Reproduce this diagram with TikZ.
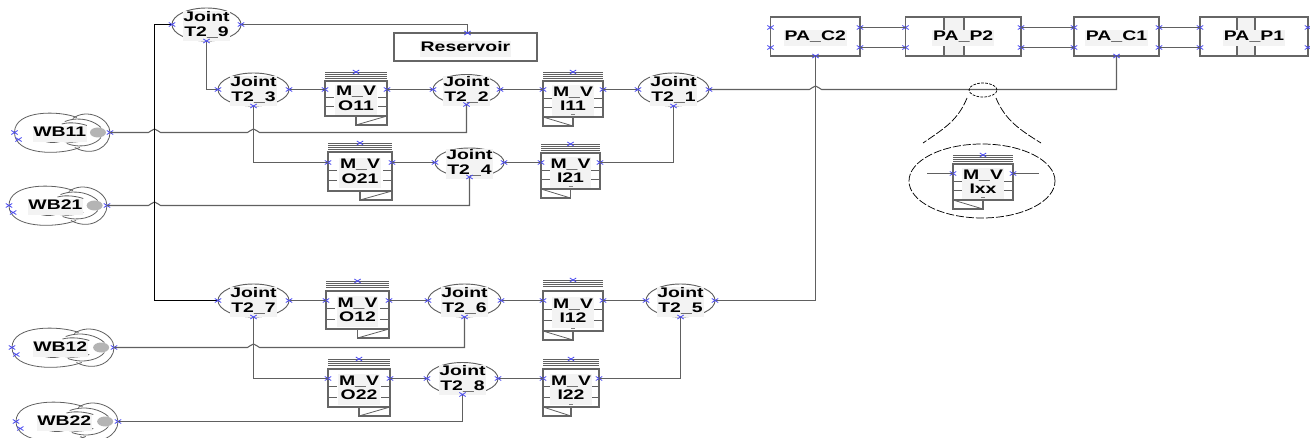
\documentclass[tikz,border=0pt]{standalone}
\usepackage{fontspec}
\setmainfont[FakeStretch=1.4]{Liberation Sans}
\usetikzlibrary{shapes.geometric,calc}
\definecolor{lineC}{HTML}{606060}
\definecolor{boxC}{HTML}{666666}
\definecolor{portC}{HTML}{4A4AF0}
\definecolor{lbg}{HTML}{F3F3F3}
\definecolor{wbgray}{HTML}{B4B4B4}
\newcommand{\lab}[1]{\setlength{\fboxsep}{0.6pt}\raisebox{-1.2pt}[\height][\depth]{\colorbox{lbg}{\fontsize{10.4}{10.8}\selectfont\bfseries\begin{tabular}{@{}c@{}}#1\end{tabular}}}}
\newcommand{\prt}[1]{\draw[portmk,shift={(#1)}] (-3.2,-2)--(3.2,2) (-3.2,2)--(3.2,-2);}
\newcommand{\hop}[2]{-- ({#1-6},#2) .. controls ({#1-4},#2) and ({#1-3},{#2-3.5}) .. (#1,{#2-3.5}) .. controls ({#1+3},{#2-3.5}) and ({#1+4},#2) .. ({#1+6},#2)}
% id, left, right, top, bottom, second line
\newcommand{\joint}[6]{%
  \node[jointnode,minimum width={(#3-#2)*0.75pt},minimum height={(#5-#4)*0.75pt}] (#1) at ({(#2+#3)/2},{(#4+#5)/2}) {\lab{Joint\\#6}};}
% common valve body: id,x1,y1,x2,y2,py,ty,label
\newcommand{\valvebody}[8]{%
  \foreach \d in {0,2.2,4.4,6.6} {\draw[thinline] (#2,{#7+\d}) -- (#4,{#7+\d});}
  \draw[thinline] (#2,{#3+(#5-#3)*0.47}) -- ({#2+9},{#3+(#5-#3)*0.47}) (#4,{#3+(#5-#3)*0.47}) -- ({#4-9},{#3+(#5-#3)*0.47});
  \draw[thinline] (#2,{#3+(#5-#3)*0.74}) -- ({#2+9},{#3+(#5-#3)*0.74}) (#4,{#3+(#5-#3)*0.74}) -- ({#4-9},{#3+(#5-#3)*0.74});
  \node[valvenode,minimum width={(#4-#2)*0.75pt},minimum height={(#5-#3)*0.75pt}] (#1) at ({(#2+#4)/2},{(#3+#5)/2}) {\lab{M\_V\\#8}};
  \coordinate (#1L) at (#2,#6);
  \coordinate (#1R) at (#4,#6);
  \coordinate (#1T) at ({(#2+#4)/2},#7);
  \prt{#1L}\prt{#1R}\prt{#1T}}
\newcommand{\valveO}[8]{\valvebody{#1}{#2}{#3}{#4}{#5}{#6}{#7}{#8}
  \draw[boxline] ({(#2+#4)/2},#5) -- ({(#2+#4)/2},{#5+9}) -- (#4,{#5+9}) -- (#4,#5);
  \draw[thinline] ({(#2+#4)/2},{#5+9}) -- (#4,#5);}
\newcommand{\valveI}[8]{\valvebody{#1}{#2}{#3}{#4}{#5}{#6}{#7}{#8}
  \draw[boxline] (#2,#5) -- (#2,{#5+9}) -- ({(#2+#4)/2},{#5+9}) -- ({(#2+#4)/2},#5);
  \draw[thinline] (#2,#5) -- ({(#2+#4)/2},{#5+9});
  \draw[thinline,gray] ({(#2+#4)/2-2},{#5-3}) -- ({(#2+#4)/2+2},{#5-3});}
% id, x0, width, y, label
\newcommand{\wb}[5]{%
  \begin{scope}[shift={(#2,#4)},xscale=#3/95]
    \draw[thinline] (62,-15) .. controls (45,-22) and (0,-23) .. (0,0) .. controls (0,23) and (45,23) .. (65,15);
    \draw[thinline] (58,-14) .. controls (72,-25) and (95,-14) .. (95,0) .. controls (95,14) and (78,25) .. (60,15);
    \draw[thinline] (50,-11) .. controls (66,-17) and (80,-11) .. (86,-5);
    \draw[thinline] (52,11) .. controls (68,17) and (82,11) .. (86,5);
    \draw[thinline] (47,-8.5) .. controls (56,-11) and (66,-9) .. (72,-7);
    \draw[thinline] (47,8.5) .. controls (56,11) and (66,9) .. (72,7);
    \draw[thinline] (26,7) .. controls (33,11) and (43,11) .. (50,7);
    \node[wbnode] (#1) at (45,0) {\lab{#5}};
    \node[wbdisc] (#1D) at (83,0) {};
    \coordinate (#1R) at (95,0);
    \coordinate (#1L) at (0,0);
    \coordinate (#1M) at (4,7);
  \end{scope}
  \prt{#1R}\prt{#1L}\prt{#1M}}
% id, x1, x2, label
\newcommand{\pabox}[4]{%
  \node[panode,minimum width={(#3-#2)*0.75pt}] (#1) at ({(#2+#3)/2},36.5) {\lab{#4}};
  \coordinate (#1La) at (#2,27.5);
  \coordinate (#1Lb) at (#2,47.5);
  \coordinate (#1Ra) at (#3,27.5);
  \coordinate (#1Rb) at (#3,47.5);
  \prt{#1La}\prt{#1Lb}\prt{#1Ra}\prt{#1Rb}}
\tikzset{
  every node/.style={inner sep=0pt,outer sep=0pt,text=black},
  thinline/.style={draw=lineC,line width=0.6pt},
  boxline/.style={draw=boxC,line width=0.9pt},
  conn/.style={draw=lineC,line width=0.8pt},
  rowconn/.style={draw=lineC,line width=0.7pt},
  bus/.style={draw=black,line width=1pt},
  portmk/.style={draw=portC,line width=0.6pt},
  jointnode/.style={ellipse,draw=lineC,line width=0.7pt,inner sep=-4pt},
  valvenode/.style={rectangle,draw=boxC,line width=0.9pt},
  panode/.style={rectangle,draw=boxC,line width=0.9pt,minimum height=29.25pt},
  wbnode/.style={},
  wbdisc/.style={ellipse,fill=wbgray,draw=none,minimum width=12pt,minimum height=7.5pt},
  dashring/.style={ellipse,draw=black,line width=0.55pt,dash pattern=on 6pt off 1.5pt},
  dashcurve/.style={draw=black,line width=0.55pt,dash pattern=on 6pt off 1.5pt}
}
\begin{document}
\begin{tikzpicture}[x=0.75pt,y=-0.75pt]
\clip (0,0) rectangle (1310,438);
% joints
\joint{T29}{172}{241}{8}{41}{T2\_9}
\joint{T23}{218}{289}{73}{106}{T2\_3}
\joint{T22}{433}{500}{74.5}{104.5}{T2\_2}
\joint{T21}{638}{709}{73}{106}{T2\_1}
\joint{T24}{435}{504}{148}{177}{T2\_4}
\joint{T27}{218}{289}{284}{317}{T2\_7}
\joint{T26}{428}{501}{284}{317}{T2\_6}
\joint{T25}{646}{715}{284}{317}{T2\_5}
\joint{T28}{427}{498}{362.5}{394.5}{T2\_8}
% valves
\valveO{O11}{325}{81}{387}{116}{89.5}{72}{O11}
\valveO{O21}{328}{152}{392}{191}{162.5}{143}{O21}
\valveO{O12}{326}{291}{389}{329}{300.5}{281}{O12}
\valveO{O22}{328}{369}{390}{407}{378.5}{359}{O22}
\valveI{I11}{543}{81}{603}{117}{89.5}{72}{I11}
\valveI{I21}{541}{153}{600}{189}{162.5}{144}{I21}
\valveI{I12}{543}{291}{603}{331}{300.5}{280}{I12}
\valveI{I22}{543}{369}{599}{407}{378.5}{359}{I22}
% reservoir
\node[valvenode,minimum width={143*0.75pt},minimum height={28*0.75pt}] (Res) at (465.5,47) {\lab{Reservoir}};
\coordinate (ResT) at (467.5,33);
% source units
\wb{WB11}{14.5}{95.5}{132.5}{WB11}
\wb{WB21}{9}{98}{205.5}{WB21}
\wb{WB12}{12}{102}{347.5}{WB12}
\wb{WB22}{16}{102}{421.5}{WB22}
% pump/compressor row
\fill[lbg] (944,17.5) rectangle (964,56);
\draw[boxline] (944,17.5) -- (944,56) (964,17.5) -- (964,56);
\fill[lbg] (1237,17.5) rectangle (1255,56);
\draw[boxline] (1237,17.5) -- (1237,56) (1255,17.5) -- (1255,56);
\pabox{PAC2}{770.5}{860}{PA\_C2}
\pabox{PAP2}{905.5}{1021}{PA\_P2}
\pabox{PAC1}{1074}{1159}{PA\_C1}
\pabox{PAP1}{1200}{1308}{PA\_P1}
\coordinate (PAC2B) at (815.5,56);
\coordinate (PAC1B) at (1116.5,56);
\prt{PAC2B}\prt{PAC1B}
\draw[rowconn] (PAC2Ra) -- (PAP2La);
\draw[rowconn] (PAC2Rb) -- (PAP2Lb);
\draw[rowconn] (PAP2Ra) -- (PAC1La);
\draw[rowconn] (PAP2Rb) -- (PAC1Lb);
\draw[rowconn] (PAC1Ra) -- (PAP1La);
\draw[rowconn] (PAC1Rb) -- (PAP1Lb);
% connectors
\draw[conn] (WB11R) \hop{154.5}{132.5} \hop{253.5}{132.5} -| (T22.south);
\draw[conn] (WB21R) \hop{154.5}{205.5} -| (T24.south);
\draw[conn] (WB12R) \hop{253.5}{347.5} -| (T26.south);
\draw[conn] (WB22R) -| (T28.south);
\draw[bus] (T29.west) -| (154.5,300.5) -- (T27.west);
\draw[conn] (T29.east) -| (ResT);
\draw[conn] (T29.south) |- (T23.west);
\draw[conn] (T23.east) -- (O11L);
\draw[conn] (O11R) -- (T22.west);
\draw[conn] (T22.east) -- (I11L);
\draw[conn] (I11R) -- (T21.west);
\draw[conn] (T23.south) |- (O21L);
\draw[conn] (O21R) -- (T24.west);
\draw[conn] (T24.east) -- (I21L);
\draw[conn] (I21R) -| (T21.south);
\draw[conn] (T27.east) -- (O12L);
\draw[conn] (O12R) -- (T26.west);
\draw[conn] (T26.east) -- (I12L);
\draw[conn] (I12R) -- (T25.west);
\draw[conn] (T27.south) |- (O22L);
\draw[conn] (O22R) -- (T28.west);
\draw[conn] (T28.east) -- (I22L);
\draw[conn] (I22R) -| (T25.south);
\draw[conn] (T21.east) \hop{815.5}{89.5} -| (PAC1B);
\draw[conn] (T25.east) -| (PAC2B);
% magnifier
\node[dashring,dash pattern=on 2pt off 1pt,minimum width={28*0.75pt},minimum height={14*0.75pt}] (Mag) at (983,90) {};
\node[dashring,minimum width={146*0.75pt},minimum height={74*0.75pt}] (Ring) at (982,181) {};
\coordinate (MagA) at (967,98);
\coordinate (RingA) at (923,143);
\coordinate (MagB) at (996,98);
\coordinate (RingB) at (1041,143);
\draw[dashcurve] (MagA) .. controls (958,120) and (945,128) .. (RingA);
\draw[dashcurve] (MagB) .. controls (1005,120) and (1020,130) .. (RingB);
\valveI{Ixx}{953}{164}{1013}{200}{173.5}{155}{Ixx}
\coordinate (IxxA) at (927,173.5);
\coordinate (IxxB) at (1039,173.5);
\draw[thinline] (IxxA) -- (IxxL) (IxxR) -- (IxxB);
% ports on joints and the reservoir
\foreach \j in {T29,T23,T22,T21,T24,T27,T26,T25,T28} {\prt{\j.west}\prt{\j.east}\prt{\j.south}}
\prt{ResT}
\end{tikzpicture}
\end{document}
